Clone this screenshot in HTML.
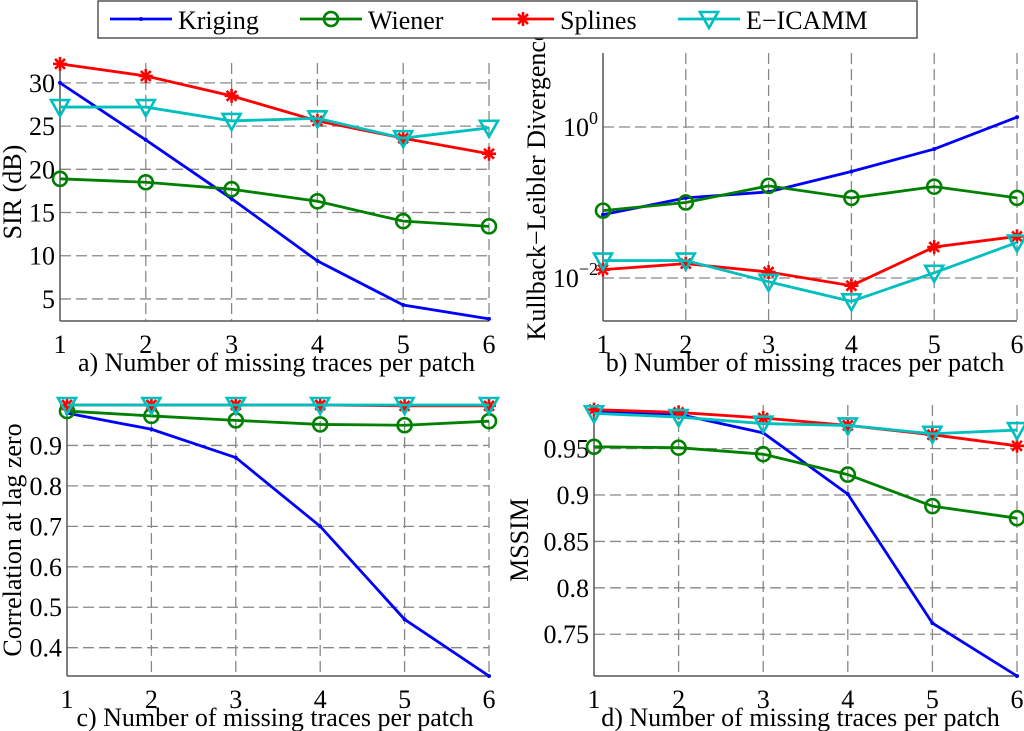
<!DOCTYPE html>
<html><head><meta charset="utf-8"><style>
html,body{margin:0;padding:0;background:#fff;}
svg{display:block;font-family:"Liberation Serif",serif;}
</style></head><body>
<svg id="fig" width="1024" height="731" viewBox="0 0 1024 731" xmlns="http://www.w3.org/2000/svg"></svg>
<script>
const xCats = [1, 2, 3, 4, 5, 6];
const seriesNames = ["Kriging", "Wiener", "Splines", "E\u2212ICAMM"];
// Panel a: SIR (dB)
const sirKriging = [30.0, 23.4, 16.6, 9.4, 4.3, 2.7];
const sirWiener = [18.9, 18.5, 17.7, 16.3, 14.0, 13.4];
const sirSplines = [32.2, 30.8, 28.5, 25.6, 23.6, 21.8];
const sirEicamm = [27.2, 27.2, 25.6, 25.9, 23.6, 24.8];
const sirTicks = [5, 10, 15, 20, 25, 30];
// Panel b: KL divergence (log)
const klKriging = [0.069, 0.115, 0.138, 0.257, 0.51, 1.35];
const klWiener = [0.078, 0.10, 0.166, 0.115, 0.162, 0.115];
const klSplines = [0.0129, 0.0155, 0.012, 0.0079, 0.0257, 0.0355];
const klEicamm = [0.017, 0.017, 0.0089, 0.0049, 0.0117, 0.0295];
const klTicks = [0.01, 1];
// Panel c: correlation
const corKriging = [0.98, 0.94, 0.87, 0.70, 0.47, 0.33];
const corWiener = [0.985, 0.973, 0.962, 0.952, 0.950, 0.960];
const corSplines = [1.0, 1.0, 1.0, 1.0, 0.998, 0.998];
const corEicamm = [1.0, 1.0, 1.0, 1.0, 1.0, 1.0];
const corTicks = [0.4, 0.5, 0.6, 0.7, 0.8, 0.9];
// Panel d: MSSIM
const msKriging = [0.990, 0.987, 0.967, 0.901, 0.762, 0.705];
const msWiener = [0.952, 0.951, 0.944, 0.922, 0.888, 0.875];
const msSplines = [0.992, 0.989, 0.983, 0.975, 0.965, 0.953];
const msEicamm = [0.988, 0.984, 0.977, 0.975, 0.966, 0.970];
const msTicks = [0.75, 0.8, 0.85, 0.9, 0.95];

const NS = "http://www.w3.org/2000/svg";
const svg = document.getElementById("fig");
const COLORS = ["#0000ff", "#008000", "#ff0000", "#00bfbf"];
const FS = 26;
function mk(tag, attrs, parent) {
  const e = document.createElementNS(NS, tag);
  for (const k in attrs) e.setAttribute(k, attrs[k]);
  (parent || svg).appendChild(e);
  return e;
}
function marker(g, kind, x, y, c) {
  if (kind === 0) { mk("circle", {cx: x, cy: y, r: 2, fill: c}, g); }
  else if (kind === 1) { mk("circle", {cx: x, cy: y, r: 7, fill: "none", stroke: c, "stroke-width": 2.6}, g); }
  else if (kind === 2) {
    const r = 7;
    for (let a = 0; a < 4; a++) {
      const t = a * Math.PI / 4;
      mk("line", {x1: x - r * Math.cos(t), y1: y - r * Math.sin(t), x2: x + r * Math.cos(t), y2: y + r * Math.sin(t), stroke: c, "stroke-width": 2.6}, g);
    }
  } else {
    mk("polygon", {points: `${x - 9},${y - 7} ${x + 9},${y - 7} ${x},${y + 9}`, fill: "none", stroke: c, "stroke-width": 2.6}, g);
  }
}
function panel(o) {
  const g = mk("g", {});
  
  
  const tf = o.log ? v => Math.log10(v) : v => v;
  const y0 = tf(o.ymin), y1 = tf(o.ymax);
  const X = v => o.L + (v - 1) / 5 * (o.R - o.L);
  const Y = v => o.B - (tf(v) - y0) / (y1 - y0) * (o.B - o.T);
  xCats.forEach(c => { if (c > 1) mk("line", {x1: X(c), y1: o.T, x2: X(c), y2: o.B, stroke: "#888", "stroke-width": 1.3, "stroke-dasharray": "11,5"}, g); });
  o.ticks.forEach(t => mk("line", {x1: o.L, y1: Y(t), x2: o.R, y2: Y(t), stroke: "#888", "stroke-width": 1.3, "stroke-dasharray": "11,5"}, g));
  mk("line", {x1: o.L, y1: o.T, x2: o.L, y2: o.B, stroke: "#555", "stroke-width": 1.5}, g);
  mk("line", {x1: o.L, y1: o.B, x2: o.R, y2: o.B, stroke: "#555", "stroke-width": 1.5}, g);
  xCats.forEach(c => {
    const t = mk("text", {x: X(c), y: o.B + 32, "font-size": FS, "text-anchor": "middle"}, g);
    t.textContent = c;
    
    
  });
  o.ticks.forEach((tv, i) => {
    const t = mk("text", {x: o.L - 5, y: Y(tv) + 9, "font-size": FS, "text-anchor": "end"}, g);
    if (o.log) {
      t.textContent = "10";
      const s = mk("tspan", {dy: -12, "font-size": 18}, t);
      s.textContent = tv < 1 ? "\u22122" : "0";
    } else t.textContent = o.labels ? o.labels[i] : tv;
    
    
  });
  o.series.forEach((arr, si) => {
    const sg = mk("g", {}, g);
    
    
    mk("polyline", {points: arr.map((v, i) => X(xCats[i]) + "," + Y(v)).join(" "), fill: "none", stroke: COLORS[si], "stroke-width": 2.8}, sg);
    arr.forEach((v, i) => marker(sg, si, X(xCats[i]), Y(v), COLORS[si]));
  });
  const xt = mk("text", {x: (o.L + o.R) / 2 + o.xtOff, y: o.B + 50, "font-size": FS, "text-anchor": "middle"}, g);
  xt.textContent = o.xtitle;
  
  
  const yt = mk("text", {x: 0, y: 0, "font-size": FS, "text-anchor": "middle", transform: `translate(${o.ytx},${o.yty}) rotate(-90)`}, g);
  yt.textContent = o.ytitle;
  
  
}
panel({name: "panel-a-sir", L: 60, R: 489, T: 63, B: 321, ymin: 2.45, ymax: 32.3, ticks: sirTicks,
  series: [sirKriging, sirWiener, sirSplines, sirEicamm], xtitle: "a) Number of missing traces per patch", xtOff: 2,
  ytitle: "SIR (dB)", ytx: 21, yty: 192});
panel({name: "panel-b-kl", L: 603, R: 1017, T: 53, B: 321, ymin: Math.pow(10, -2.57), ymax: Math.pow(10, 0.98), log: true, ticks: klTicks,
  series: [klKriging, klWiener, klSplines, klEicamm], xtitle: "b) Number of missing traces per patch", xtOff: -5,
  ytitle: "Kullback\u2212Leibler Divergence", ytx: 545, yty: 185});
panel({name: "panel-c-correlation", L: 67, R: 489, T: 405, B: 676, ymin: 0.33, ymax: 1.0, ticks: corTicks,
  series: [corKriging, corWiener, corSplines, corEicamm], xtitle: "c) Number of missing traces per patch", xtOff: -3,
  ytitle: "Correlation at lag zero", ytx: 21, yty: 540});
panel({name: "panel-d-mssim", L: 594, R: 1017, T: 405, B: 676, ymin: 0.705, ymax: 0.997, ticks: msTicks, labels: ["0.75", "0.8", "0.85", "0.9", "0.95"],
  series: [msKriging, msWiener, msSplines, msEicamm], xtitle: "d) Number of missing traces per patch", xtOff: -5,
  ytitle: "MSSIM", ytx: 528, yty: 540});

const lg = mk("g", {});


mk("rect", {x: 98, y: 1, width: 819, height: 37, fill: "#fff", stroke: "#555", "stroke-width": 1.5}, lg);
const legX = [110, 300, 492, 678];
seriesNames.forEach((n, i) => {
  const eg = mk("g", {}, lg);
  
  
  mk("line", {x1: legX[i], y1: 19, x2: legX[i] + 62, y2: 19, stroke: COLORS[i], "stroke-width": 2.8}, eg);
  marker(eg, i, legX[i] + 31, 19, COLORS[i]);
  const t = mk("text", {x: legX[i] + 68, y: 29, "font-size": FS}, eg);
  t.textContent = n;
});
</script>
</body></html>
